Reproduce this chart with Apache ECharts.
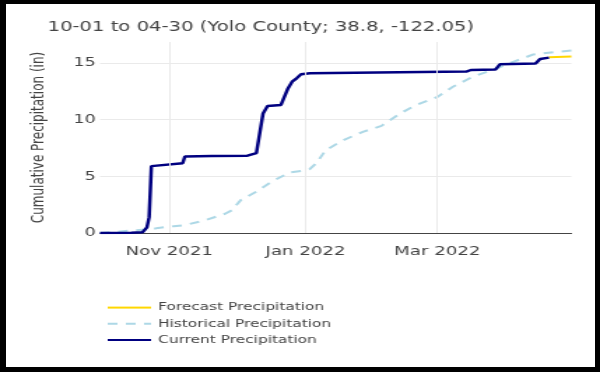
<!DOCTYPE html>
<html><head><meta charset="utf-8">
<script src="https://cdn.jsdelivr.net/npm/echarts@6/dist/echarts.min.js"></script>
<style>
html,body{margin:0;padding:0;background:#fff;}
#chart{position:absolute;left:0;top:0;width:429px;height:372px;transform:scaleX(1.3986);transform-origin:0 0;}
#frame{position:absolute;left:0;top:0;width:600px;height:372px;box-sizing:border-box;border-style:solid;border-color:#000;border-width:4px 5px 5px 6px;pointer-events:none;}
</style></head>
<body>
<div id="chart"></div>
<div id="frame"></div>
<script>
// ---- data ----
const titleText = '10-01 to 04-30 (Yolo County; 38.8, -122.05)';
const yAxisName = 'Cumulative Precipitation (in)';
const xMin = '2021-10-01';
const xMax = '2022-04-30';
const xTickDates = ['2021-11-01', '2022-01-01', '2022-03-01'];
const xTickLabels = ['Nov 2021', 'Jan 2022', 'Mar 2022'];
const yTicks = [0, 5, 10, 15];
const yMax = 16.85;

const forecastDates = ['2022-04-20', '2022-04-21', '2022-04-30'];
const forecastValues = [15.5, 15.57, 15.57];

const histDates = ['2021-10-01','2021-10-08','2021-10-14','2021-10-24','2021-10-27','2021-11-03','2021-11-08','2021-11-17','2021-11-26','2021-11-29','2021-12-03','2021-12-10','2021-12-17','2021-12-25','2021-12-31','2022-01-03','2022-01-06','2022-01-10','2022-01-18','2022-01-27','2022-02-04','2022-02-12','2022-02-19','2022-03-01','2022-03-08','2022-03-17','2022-03-26','2022-04-04','2022-04-13','2022-04-22','2022-04-30'];
const histValues = [0,0.1,0.2,0.33,0.45,0.6,0.7,1.12,1.7,2.0,2.9,3.65,4.55,5.35,5.5,5.65,6.2,7.3,8.2,8.95,9.45,10.5,11.25,12.0,12.9,13.8,14.4,15.1,15.75,15.95,16.1];

const curDates = ['2021-10-01','2021-10-15','2021-10-20','2021-10-22','2021-10-23','2021-10-24','2021-10-25','2021-11-07','2021-11-08','2021-11-20','2021-12-06','2021-12-07','2021-12-10','2021-12-11','2021-12-13','2021-12-14','2021-12-15','2021-12-21','2021-12-24','2021-12-26','2021-12-28','2021-12-30','2022-01-03','2022-01-04','2022-03-14','2022-03-16','2022-03-27','2022-03-29','2022-04-14','2022-04-16','2022-04-20'];
const curValues = [0,0.02,0.06,0.5,1.4,5.9,6.05,6.15,6.75,6.8,6.82,6.98,7.05,7.2,10.55,10.6,11.2,11.3,12.7,13.35,13.65,14.0,14.1,14.2,14.24,14.38,14.42,14.88,14.95,15.35,15.47];

// ---- helpers ----
function t(s){ const p = s.split('-').map(Number); return new Date(p[0], p[1]-1, p[2]).getTime(); }
function pairs(ds, vs){ return ds.map((d,i)=>[t(d), vs[i]]); }
const tickTimes = xTickDates.map(t);
const FONT = 'DejaVu Sans';
const DAY = 86400000;

const chart = echarts.init(document.getElementById('chart'), null, {renderer:'canvas'});
chart.setOption({
  animation: false,
  backgroundColor: '#fff',
  title: {
    text: titleText, left: 34, top: 20, padding: 0,
    textStyle: {fontFamily: FONT, fontSize: 14, fontWeight: 'normal', color: '#444'}
  },
  legend: {
    orient: 'vertical', left: 76, top: 302, padding: 0,
    itemWidth: 31, itemHeight: 14, itemGap: 5,
    itemStyle: {opacity: 0},
    textStyle: {fontFamily: FONT, fontSize: 11, color: '#444'},
    data: ['Forecast Precipitation', 'Historical Precipitation', 'Current Precipitation']
  },
  grid: {left: 71.5, right: 20.5, top: 42, bottom: 139, containLabel: false},
  xAxis: {
    type: 'time', min: t(xMin), max: t(xMax),
    minInterval: 28 * DAY, maxInterval: 31 * DAY,
    axisLine: {show: true, lineStyle: {color: '#444', width: 1.2}},
    axisTick: {show: false},
    splitLine: {show: false},
    axisLabel: {
      margin: 12, showMinLabel: false, showMaxLabel: false,
      fontFamily: FONT, fontSize: 13, color: '#444',
      formatter: function(v){
        for (let i = 0; i < tickTimes.length; i++) if (Math.abs(tickTimes[i]-v) < 3600000) return xTickLabels[i];
        return '';
      }
    }
  },
  yAxis: {
    type: 'value', min: 0, max: yMax, interval: 5,
    name: yAxisName, nameLocation: 'middle', nameGap: 38,
    nameTextStyle: {fontFamily: FONT, fontSize: 12, color: '#444'},
    axisLine: {show: false},
    axisTick: {show: false},
    splitLine: {show: true, showMinLine: false, showMaxLine: false, lineStyle: {color: '#eaeaea', width: 1}},
    axisLabel: {margin: 3, showMaxLabel: false, fontFamily: FONT, fontSize: 12.5, color: '#444',
      formatter: function(v){ return yTicks.indexOf(v) >= 0 ? String(v) : ''; }}
  },
  series: [
    {name: 'Forecast Precipitation', type: 'line', symbol: 'none', z: 1, data: pairs(forecastDates, forecastValues),
     lineStyle: {color: '#FFD700', width: 2}, itemStyle: {color: '#FFD700'},
     markLine: {silent: true, symbol: 'none', label: {show: false},
       lineStyle: {color: '#eaeaea', width: 1, type: 'solid'},
       data: tickTimes.map(v => ({xAxis: v}))}},
    {name: 'Historical Precipitation', type: 'line', symbol: 'none', z: 2, data: pairs(histDates, histValues),
     lineStyle: {color: '#ADD8E6', width: 2, type: [7, 6]}, itemStyle: {color: '#ADD8E6'}},
    {name: 'Current Precipitation', type: 'line', symbol: 'none', z: 3, data: pairs(curDates, curValues),
     lineStyle: {color: '#000080', width: 2.5}, itemStyle: {color: '#000080'}}
  ]
});
</script>
</body></html>
